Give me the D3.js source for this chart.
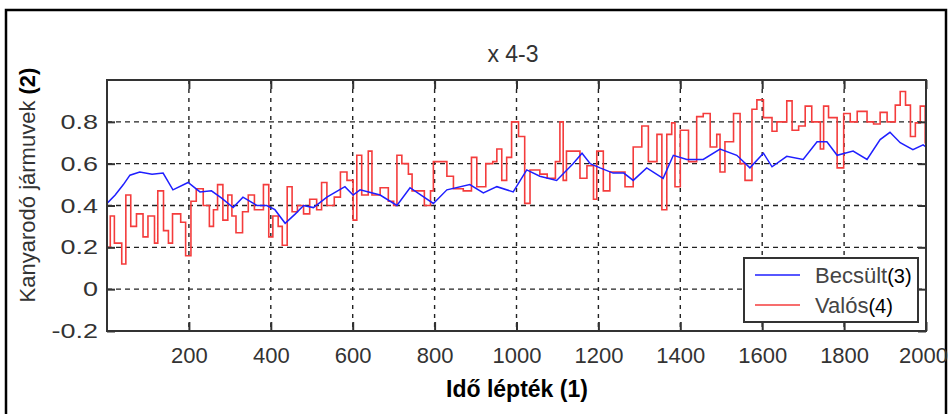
<!DOCTYPE html>
<html>
<head>
<meta charset="utf-8">
<script src="https://cdn.jsdelivr.net/npm/d3@7"></script>
<style>
  html, body { margin: 0; padding: 0; background: #fff; }
  svg { display: block; }
</style>
</head>
<body>
<div id="chart"></div>
<script>
// x axis ticks and labels
const xTicks = [200, 400, 600, 800, 1000, 1200, 1400, 1600, 1800, 2000];
const yTicks = [-0.2, 0, 0.2, 0.4, 0.6, 0.8];

// Becsült (estimated)
const blueT = [0, 20, 40, 56, 80, 110, 137, 161, 198, 227, 255, 280, 308, 332, 366, 390, 410, 435,
  460, 480, 504, 537, 581, 601, 618, 667, 708, 740, 797, 830, 886, 919, 952, 992, 1025, 1057,
  1098, 1138, 1160, 1180, 1204, 1236, 1262, 1285, 1318, 1358, 1383, 1416, 1456, 1497, 1538, 1570,
  1603, 1624, 1660, 1700, 1734, 1758, 1783, 1822, 1856, 1888, 1912, 1937, 1968, 1993, 2000];
const blueV = [0.41, 0.45, 0.50, 0.545, 0.56, 0.55, 0.555, 0.475, 0.51, 0.465, 0.47, 0.435, 0.39, 0.44,
  0.40, 0.40, 0.38, 0.315, 0.36, 0.40, 0.39, 0.44, 0.49, 0.45, 0.475, 0.45, 0.40, 0.485, 0.41, 0.475,
  0.50, 0.46, 0.49, 0.465, 0.57, 0.54, 0.52, 0.60, 0.65, 0.60, 0.58, 0.555, 0.555, 0.52, 0.58, 0.53,
  0.64, 0.62, 0.62, 0.67, 0.64, 0.58, 0.65, 0.585, 0.635, 0.62, 0.705, 0.705, 0.64, 0.66, 0.62,
  0.715, 0.75, 0.70, 0.667, 0.69, 0.68];

// Valós (actual) - step levels, each starting at redT[i]
const redT = [0, 8, 18, 36, 46, 58, 72, 88, 100, 116, 124, 138, 150, 160, 180, 192, 205, 218, 235,
  250, 260, 270, 283, 295, 305, 315, 331, 345, 360, 382, 395, 405, 418, 428, 440, 452, 465, 480,
  495, 512, 524, 537, 555, 570, 586, 601, 610, 622, 638, 647, 667, 687, 700, 708, 720, 736, 745,
  775, 790, 797, 830, 846, 870, 890, 903, 925, 942, 952, 964, 976, 988, 1005, 1020, 1033, 1057,
  1075, 1095, 1106, 1114, 1122, 1155, 1172, 1188, 1196, 1212, 1228, 1265, 1285, 1306, 1322, 1343,
  1355, 1367, 1379, 1387, 1400, 1420, 1440, 1456, 1473, 1489, 1497, 1509, 1530, 1546, 1558, 1575,
  1587, 1603, 1624, 1636, 1660, 1673, 1689, 1705, 1721, 1742, 1750, 1762, 1783, 1799, 1815, 1832,
  1856, 1872, 1888, 1905, 1925, 1937, 1950, 1962, 1974, 1986, 1998];
const redV = [0.20, 0.35, 0.22, 0.12, 0.45, 0.30, 0.36, 0.25, 0.35, 0.22, 0.47, 0.28, 0.22, 0.36,
  0.32, 0.16, 0.42, 0.48, 0.40, 0.30, 0.38, 0.50, 0.33, 0.45, 0.35, 0.27, 0.37, 0.45, 0.38, 0.50,
  0.25, 0.35, 0.30, 0.21, 0.49, 0.37, 0.40, 0.36, 0.43, 0.38, 0.51, 0.40, 0.44, 0.56, 0.52, 0.33,
  0.64, 0.45, 0.66, 0.45, 0.485, 0.42, 0.40, 0.64, 0.60, 0.55, 0.47, 0.40, 0.47, 0.61, 0.54, 0.48,
  0.47, 0.63, 0.49, 0.60, 0.61, 0.67, 0.52, 0.63, 0.80, 0.73, 0.41, 0.57, 0.55, 0.53, 0.61, 0.80,
  0.52, 0.66, 0.53, 0.59, 0.43, 0.66, 0.47, 0.56, 0.49, 0.68, 0.78, 0.61, 0.74, 0.38, 0.74, 0.795,
  0.49, 0.76, 0.61, 0.825, 0.84, 0.68, 0.74, 0.56, 0.705, 0.84, 0.60, 0.52, 0.86, 0.905, 0.82,
  0.755, 0.80, 0.90, 0.76, 0.78, 0.875, 0.80, 0.67, 0.875, 0.82, 0.58, 0.84, 0.80, 0.85, 0.80,
  0.79, 0.845, 0.80, 0.88, 0.945, 0.88, 0.73, 0.795, 0.875, 0.70];

const W = 951, H = 414;
const plot = { left: 107, right: 926, top: 80, bottom: 331 };

const svg = d3.select("#chart").append("svg")
  .attr("width", W).attr("height", H);

// outer frame
svg.append("rect")
  .attr("x", 6).attr("y", 10).attr("width", 940).attr("height", 420)
  .attr("fill", "none").attr("stroke", "#000").attr("stroke-width", 2.5);

const x = d3.scaleLinear().domain([0, 2000]).range([plot.left, plot.right]);
const y = d3.scaleLinear().domain([-0.2, 1.0]).range([plot.bottom, plot.top]);

// grid
const grid = svg.append("g").attr("stroke", "#222").attr("stroke-width", 1.4);
grid.selectAll("line.v").data(xTicks.filter(d => d < 2000)).join("line")
  .attr("x1", d => x(d)).attr("x2", d => x(d))
  .attr("y1", plot.top).attr("y2", plot.bottom)
  .attr("stroke-dasharray", "4,5");
grid.selectAll("line.h").data(yTicks.filter(d => d > -0.2)).join("line")
  .attr("y1", d => y(d)).attr("y2", d => y(d))
  .attr("x1", plot.left).attr("x2", plot.right)
  .attr("stroke-dasharray", "5,4");

svg.append("clipPath").attr("id", "clip").append("rect")
  .attr("x", plot.left).attr("y", plot.top)
  .attr("width", plot.right - plot.left).attr("height", plot.bottom - plot.top);

const lines = svg.append("g").attr("clip-path", "url(#clip)");

const redPts = redT.map((t, i) => [t, redV[i]]);
redPts.push([2000, redV[redV.length - 1]]);
lines.append("path")
  .attr("d", d3.line().x(d => x(d[0])).y(d => y(d[1])).curve(d3.curveStepAfter)(redPts))
  .attr("fill", "none").attr("stroke", "#f43c3c").attr("stroke-width", 1.6);

const bluePts = blueT.map((t, i) => [t, blueV[i]]);
lines.append("path")
  .attr("d", d3.line().x(d => x(d[0])).y(d => y(d[1]))(bluePts))
  .attr("fill", "none").attr("stroke", "#1f1fff").attr("stroke-width", 1.5);

// axes box and ticks
const axisG = svg.append("g");
axisG.append("g").attr("transform", `translate(0,${plot.bottom})`)
  .call(d3.axisBottom(x).tickValues(xTicks).tickSize(-9).tickPadding(16).tickFormat(d3.format("d")));
axisG.append("g").attr("transform", `translate(0,${plot.top})`)
  .call(d3.axisTop(x).tickValues(xTicks).tickSize(-9).tickFormat(""));
axisG.append("g").attr("transform", `translate(${plot.left},0)`)
  .call(d3.axisLeft(y).tickValues(yTicks).tickSize(-8).tickFormat(""));
axisG.append("g").attr("transform", `translate(${plot.right},0)`)
  .call(d3.axisRight(y).tickValues(yTicks).tickSize(-8).tickFormat(""));
axisG.selectAll(".domain").remove();
axisG.selectAll("line").attr("stroke", "#333").attr("stroke-width", 2);
axisG.selectAll("text")
  .attr("font-family", "'Liberation Sans', Arial, sans-serif")
  .attr("font-size", 22).attr("fill", "#333")
  .attr("dx", d => d === 2000 ? -3 : 0);

svg.append("rect")
  .attr("x", plot.left).attr("y", plot.top)
  .attr("width", plot.right - plot.left).attr("height", plot.bottom - plot.top)
  .attr("fill", "none").attr("stroke", "#333").attr("stroke-width", 2);

// y tick labels (wide look)
svg.append("g").selectAll("g").data(yTicks).join("g")
  .attr("transform", d => `translate(98,${y(d) + 7}) scale(1.35,1)`)
  .append("text")
  .attr("text-anchor", "end")
  .attr("font-family", "'Liberation Sans', Arial, sans-serif")
  .attr("font-size", 20).attr("fill", "#333")
  .text(d => d3.format("")(d).replace("−", "-"));

// title
svg.append("text")
  .attr("x", 513).attr("y", 62).attr("text-anchor", "middle")
  .attr("font-family", "'Liberation Sans', Arial, sans-serif")
  .attr("font-size", 23).attr("fill", "#333")
  .text("x 4-3");

// x label
svg.append("text")
  .attr("x", 517).attr("y", 397).attr("text-anchor", "middle")
  .attr("font-family", "'Liberation Sans', Arial, sans-serif")
  .attr("font-size", 23).attr("font-weight", "bold").attr("fill", "#000")
  .text("Idő lépték (1)");

// y label
const yl = svg.append("text")
  .attr("transform", "translate(35,185) rotate(-90)")
  .attr("text-anchor", "middle")
  .attr("font-family", "'Liberation Sans', Arial, sans-serif")
  .attr("font-size", 22);
yl.append("tspan").attr("fill", "#333").text("Kanyarodó jármuvek ");
yl.append("tspan").attr("fill", "#000").attr("font-weight", "bold").text("(2)");

// legend
const leg = svg.append("g");
leg.append("rect")
  .attr("x", 744).attr("y", 258).attr("width", 174).attr("height", 64)
  .attr("fill", "#fff").attr("stroke", "#333").attr("stroke-width", 2);
const legItems = [
  { name: "Becsült", num: "(3)", color: "#1f1fff", yy: 275 },
  { name: "Valós", num: "(4)", color: "#f43c3c", yy: 305 }
];
legItems.forEach(d => {
  leg.append("line").attr("x1", 755).attr("x2", 800).attr("y1", d.yy).attr("y2", d.yy)
    .attr("stroke", d.color).attr("stroke-width", 1.6);
  const t = leg.append("text").attr("x", 815).attr("y", d.yy + 8)
    .attr("font-family", "'Liberation Sans', Arial, sans-serif").attr("font-size", 22);
  t.append("tspan").attr("fill", "#444").text(d.name);
  t.append("tspan").attr("fill", "#000")
    .attr("font-family", "'Liberation Sans Narrow', 'Liberation Sans', Arial, sans-serif")
    .attr("font-size", 20).text(d.num);
});
</script>
</body>
</html>
